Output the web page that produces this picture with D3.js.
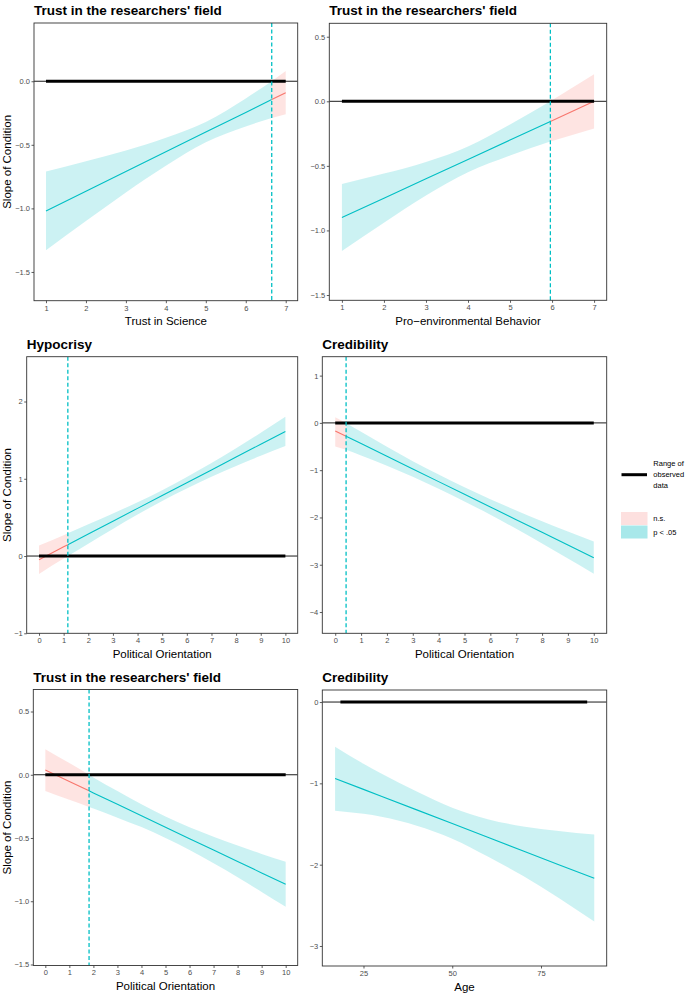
<!DOCTYPE html>
<html><head><meta charset="utf-8">
<script src="https://cdn.jsdelivr.net/npm/d3@7"></script>
<style>
body{margin:0;background:#fff}
text{font-family:"Liberation Sans",Arial,Helvetica,sans-serif}
</style>
</head><body>
<svg id="c" width="700" height="999"></svg>
<script>
// ---------- DATA ----------
const titles = ["Trust in the researchers' field","Trust in the researchers' field","Hypocrisy","Credibility","Trust in the researchers' field","Credibility"];
const xLabels = ["Trust in Science","Pro\u2212environmental Behavior","Political Orientation","Political Orientation","Political Orientation","Age"];
const yLabel = "Slope of Condition";
const jnPoints = [6.65, 5.96, 1.17, 0.42, 1.82, null];
const nsSides = ["right","right","left","left","left",null];

// Panel 1: Trust in Science
const p1_x   = [1, 2, 3, 4, 5, 6, 6.65, 7];
const p1_fit = [-1.02, -0.865, -0.71, -0.555, -0.40, -0.245, -0.144, -0.09];
const p1_hi  = [-0.71, -0.63, -0.545, -0.445, -0.32, -0.135, 0.0, 0.08];
const p1_lo  = [-1.33, -1.10, -0.875, -0.665, -0.48, -0.355, -0.29, -0.26];
const p1_obs = [1, 7];
const p1_xticks = [1,2,3,4,5,6,7];
const p1_yticks = [0.0,-0.5,-1.0,-1.5];

// Panel 2: Pro-environmental Behavior
const p2_x   = [1, 2, 3, 4, 5, 5.96, 7];
const p2_fit = [-0.90, -0.75, -0.60, -0.45, -0.30, -0.156, 0.0];
const p2_hi  = [-0.64, -0.56, -0.47, -0.35, -0.18, 0.0, 0.21];
const p2_lo  = [-1.16, -0.94, -0.73, -0.55, -0.42, -0.312, -0.21];
const p2_obs = [1, 7];
const p2_xticks = [1,2,3,4,5,6,7];
const p2_yticks = [0.5,0.0,-0.5,-1.0,-1.5];

// Panel 3: Hypocrisy ~ Political Orientation
const p3_x   = [0, 1, 1.17, 2, 3, 4, 5, 6, 7, 8, 9, 10];
const p3_fit = [-0.047, 0.119, 0.147, 0.285, 0.451, 0.617, 0.783, 0.949, 1.115, 1.281, 1.447, 1.613];
const p3_hi  = [0.138, 0.269, 0.294, 0.41, 0.551, 0.697, 0.853, 1.024, 1.205, 1.396, 1.597, 1.803];
const p3_lo  = [-0.232, -0.031, 0.0, 0.16, 0.351, 0.537, 0.713, 0.874, 1.025, 1.166, 1.297, 1.423];
const p3_obs = [0, 10];
const p3_xticks = [0,1,2,3,4,5,6,7,8,9,10];
const p3_yticks = [-1,0,1,2];

// Panel 4: Credibility ~ Political Orientation
const p4_x   = [0, 0.42, 1, 2, 3, 4, 5, 6, 7, 8, 9, 10];
const p4_fit = [-0.17, -0.283, -0.438, -0.706, -0.974, -1.242, -1.51, -1.778, -2.046, -2.314, -2.582, -2.85];
const p4_hi  = [0.12, 0.0, -0.188, -0.506, -0.809, -1.092, -1.36, -1.613, -1.851, -2.079, -2.297, -2.51];
const p4_lo  = [-0.50, -0.566, -0.688, -0.906, -1.139, -1.392, -1.66, -1.943, -2.241, -2.549, -2.867, -3.19];
const p4_obs = [0, 10];
const p4_xticks = [0,1,2,3,4,5,6,7,8,9,10];
const p4_yticks = [1,0,-1,-2,-3,-4];

// Panel 5: Trust in field ~ Political Orientation
const p5_x   = [0, 1, 1.82, 2, 3, 4, 5, 6, 7, 8, 9, 10];
const p5_fit = [0.037, -0.053, -0.127, -0.144, -0.234, -0.324, -0.415, -0.505, -0.595, -0.685, -0.776, -0.866];
const p5_hi  = [0.202, 0.092, 0.0, -0.021, -0.129, -0.234, -0.33, -0.415, -0.49, -0.56, -0.626, -0.688];
const p5_lo  = [-0.128, -0.198, -0.254, -0.267, -0.339, -0.414, -0.50, -0.595, -0.70, -0.81, -0.926, -1.044];
const p5_obs = [0, 10];
const p5_xticks = [0,1,2,3,4,5,6,7,8,9,10];
const p5_yticks = [0.5,0.0,-0.5,-1.0,-1.5];

// Panel 6: Credibility ~ Age
const p6_x   = [17, 25, 30, 40, 50, 60, 70, 80, 90];
const p6_fit = [-0.939, -1.074, -1.158, -1.326, -1.495, -1.663, -1.832, -2.0, -2.168];
const p6_hi  = [-0.55, -0.76, -0.88, -1.10, -1.30, -1.44, -1.53, -1.585, -1.63];
const p6_lo  = [-1.336, -1.375, -1.41, -1.52, -1.68, -1.90, -2.14, -2.41, -2.70];
const p6_obs = [18.5, 88];
const p6_xticks = [25,50,75];
const p6_yticks = [0,-1,-2,-3];

const legendLabels = ["Range of","observed","data"];
const legendKeys = ["n.s.","p < .05"];

// ---------- LAYOUT / STYLE ----------
const COL_SIG = "#00BFC4", COL_NS = "#F8766D";
const FILL_SIG = "rgba(0,191,196,0.2)", FILL_NS = "rgba(248,118,109,0.2)";
const boxes = [
  {l:34, r:297.7, t:23, b:300.7},
  {l:329.3, r:606.7, t:23.3, b:300.3},
  {l:26.7, r:297.7, t:356.7, b:633.3},
  {l:322.3, r:606.7, t:356.7, b:633.3},
  {l:33.3, r:297.7, t:689.5, b:965.5},
  {l:322.3, r:606.7, t:690, b:966}
];
const xDoms = [[0.7,7.3],[0.7,7.3],[-0.5,10.5],[-0.5,10.5],[-0.5,10.5],[13.4,93.5]];
const yDoms = [[-1.726,0.458],[-1.541,0.604],[-1.0,2.58],[-4.45,1.40],[-1.508,0.674],[-3.246,0.148]];
const yFmts = [".1f",".1f","d","d",".1f","d"];

const series = [
  [p1_x,p1_fit,p1_lo,p1_hi,p1_obs,p1_xticks,p1_yticks],
  [p2_x,p2_fit,p2_lo,p2_hi,p2_obs,p2_xticks,p2_yticks],
  [p3_x,p3_fit,p3_lo,p3_hi,p3_obs,p3_xticks,p3_yticks],
  [p4_x,p4_fit,p4_lo,p4_hi,p4_obs,p4_xticks,p4_yticks],
  [p5_x,p5_fit,p5_lo,p5_hi,p5_obs,p5_xticks,p5_yticks],
  [p6_x,p6_fit,p6_lo,p6_hi,p6_obs,p6_xticks,p6_yticks]
];

const svg = d3.select("#c");
const minus = s => s.replace(/-/g, "\u2212");

series.forEach((s, i) => {
  const [xs, fit, lo, hi, obs, xt, yt] = s;
  const B = boxes[i];
  const x = d3.scaleLinear().domain(xDoms[i]).range([B.l, B.r]);
  const y = d3.scaleLinear().domain(yDoms[i]).range([B.b, B.t]);
  const g = svg.append("g");
  const clipId = "clip" + i;
  svg.append("clipPath").attr("id", clipId).append("rect")
    .attr("x", B.l).attr("y", B.t).attr("width", B.r - B.l).attr("height", B.b - B.t);
  const plot = g.append("g").attr("clip-path", `url(#${clipId})`);

  const pts = xs.map((v, k) => ({x: v, f: fit[k], lo: lo[k], hi: hi[k]}));
  const jn = jnPoints[i], side = nsSides[i];
  let sig = pts, ns = [];
  if (jn !== null) {
    if (side === "right") { sig = pts.filter(p => p.x <= jn); ns = pts.filter(p => p.x >= jn); }
    else { sig = pts.filter(p => p.x >= jn); ns = pts.filter(p => p.x <= jn); }
  }
  const area = d3.area().x(d => x(d.x)).y0(d => y(d.lo)).y1(d => y(d.hi)).curve(d3.curveMonotoneX);
  const line = d3.line().x(d => x(d.x)).y(d => y(d.f));
  [[sig, FILL_SIG], [ns, FILL_NS]].forEach(([d, c]) => {
    if (d.length > 1) plot.append("path").attr("d", area(d)).attr("fill", c).attr("stroke", "none");
  });
  [[sig, COL_SIG], [ns, COL_NS]].forEach(([d, c]) => {
    if (d.length > 1) plot.append("path").attr("d", line(d)).attr("fill", "none").attr("stroke", c).attr("stroke-width", 1.1);
  });
  // zero line
  plot.append("line").attr("x1", B.l).attr("x2", B.r).attr("y1", y(0)).attr("y2", y(0))
    .attr("stroke", "#000").attr("stroke-width", 0.9);
  // observed range
  plot.append("line").attr("x1", x(obs[0])).attr("x2", x(obs[1])).attr("y1", y(0)).attr("y2", y(0))
    .attr("stroke", "#000").attr("stroke-width", 3);
  // JN line
  if (jn !== null) {
    plot.append("line").attr("x1", x(jn)).attr("x2", x(jn)).attr("y1", B.t).attr("y2", B.b)
      .attr("stroke", COL_SIG).attr("stroke-width", 1.3).attr("stroke-dasharray", "4,2.5");
  }
  // border
  g.append("rect").attr("x", B.l).attr("y", B.t).attr("width", B.r - B.l).attr("height", B.b - B.t)
    .attr("fill", "none").attr("stroke", "#333").attr("stroke-width", 0.9);

  // axes
  const xa = g.append("g").attr("transform", `translate(0,${B.b})`)
    .call(d3.axisBottom(x).tickValues(xt).tickSizeOuter(0).tickSize(2.5).tickPadding(2).tickFormat(d => minus(String(d))));
  const fmt = d3.format(yFmts[i]);
  const ya = g.append("g").attr("transform", `translate(${B.l},0)`)
    .call(d3.axisLeft(y).tickValues(yt).tickSizeOuter(0).tickSize(2.5).tickPadding(1.5).tickFormat(d => minus(fmt(d))));
  [xa, ya].forEach(a => {
    a.select(".domain").remove();
    a.selectAll(".tick line").attr("stroke", "#333").attr("stroke-width", 0.8);
    a.selectAll(".tick text").attr("fill", "#4D4D4D").style("font-size", "7.5px")
      .style("font-family", '"Liberation Sans",Arial,sans-serif');
  });

  // titles
  g.append("text").attr("x", B.l).attr("y", B.t - 8).text(titles[i])
    .style("font-size", "13.5px").style("font-weight", "bold").attr("fill", "#000");
  g.append("text").attr("x", (B.l + B.r) / 2).attr("y", B.b + 24.5).attr("text-anchor", "middle")
    .text(xLabels[i]).style("font-size", "11.5px").attr("fill", "#000");
  if (i % 2 === 0) {
    g.append("text").attr("transform", `translate(10.5,${(B.t + B.b) / 2}) rotate(-90)`)
      .attr("text-anchor", "middle").text(yLabel).style("font-size", "11.5px").attr("fill", "#000");
  }
});

// legend
const L = svg.append("g");
L.append("line").attr("x1", 621.5).attr("x2", 647).attr("y1", 474.7).attr("y2", 474.7)
  .attr("stroke", "#000").attr("stroke-width", 3);
legendLabels.forEach((t, k) => {
  L.append("text").attr("x", 653.3).attr("y", 466.4 + k * 10.7).text(t)
    .style("font-size", "7.5px").attr("fill", "#000");
});
L.append("rect").attr("x", 621).attr("y", 512).attr("width", 26.5).attr("height", 13).attr("fill", "#FDE0DF");
L.append("rect").attr("x", 621).attr("y", 525.5).attr("width", 26.5).attr("height", 13).attr("fill", "#A8E8EA");
legendKeys.forEach((t, k) => {
  L.append("text").attr("x", 653.3).attr("y", 521.4 + k * 13.4).text(t)
    .style("font-size", "7.5px").attr("fill", "#000");
});
</script>
</body></html>
